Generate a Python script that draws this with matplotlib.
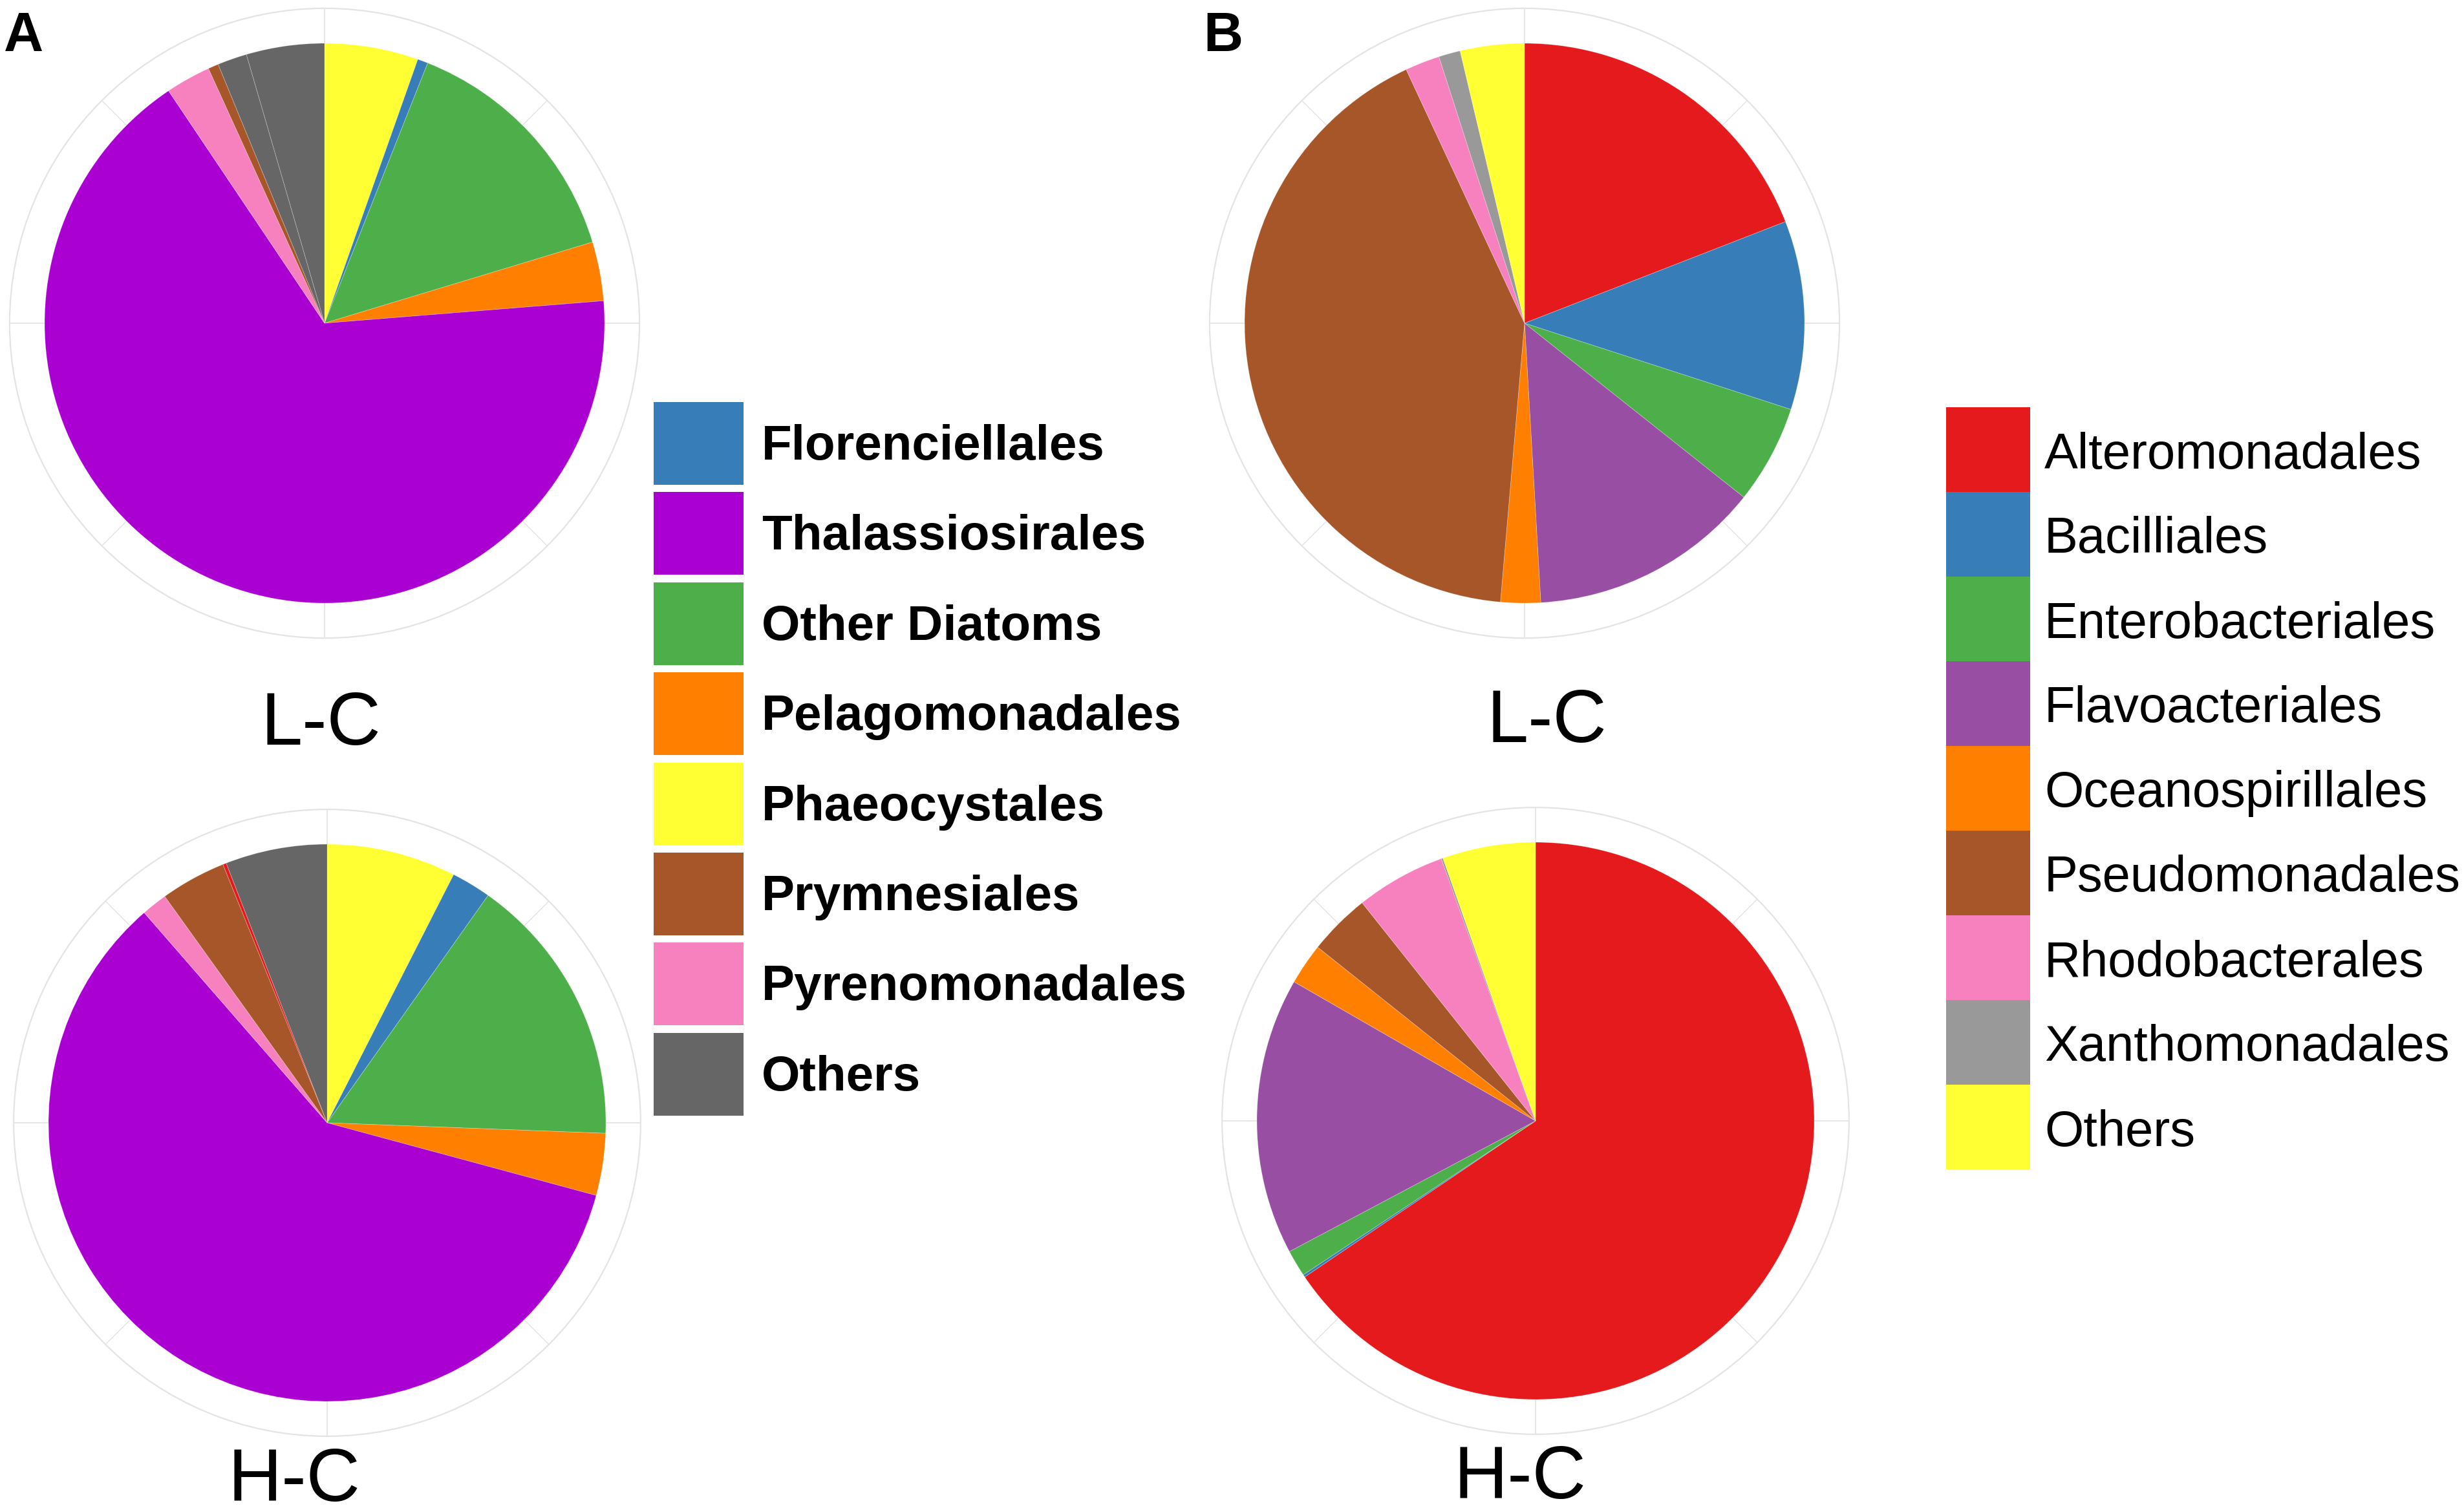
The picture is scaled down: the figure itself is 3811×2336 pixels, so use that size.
import math

import matplotlib
matplotlib.use("Agg")
import matplotlib.patches as patches  # noqa: E402
import matplotlib.pyplot as plt  # noqa: E402

plt.rcParams["font.family"] = ["Liberation Sans", "DejaVu Sans"]

W, H = 3811, 2336
DPI = 100
GRID = "#E4E4E4"

# Panel A: slices listed clockwise from 12 o'clock (relative abundance, %)
a_slices = ["Phaeocystales", "Florenciellales", "Other Diatoms", "Pelagomonadales",
            "Thalassiosirales", "Pyrenomonadales", "Prymnesiales", "Unlisted",
            "Others", "Others"]
a_lc = [5.4, 0.6, 14.3, 3.4, 66.8, 2.6, 0.6, 0.0, 1.7, 4.5]
a_hc = [7.5, 2.3, 15.8, 3.6, 59.4, 1.5, 3.8, 0.2, 5.9, 0.0]
a_legend = ["Florenciellales", "Thalassiosirales", "Other Diatoms", "Pelagomonadales",
            "Phaeocystales", "Prymnesiales", "Pyrenomonadales", "Others"]

# Panel B
b_slices = ["Alteromonadales", "Bacilliales", "Enterobacteriales", "Flavoacteriales",
            "Oceanospirillales", "Pseudomonadales", "Rhodobacterales",
            "Xanthomonadales", "Others"]
b_lc = [19.1, 10.9, 5.7, 13.4, 2.3, 41.7, 2.0, 1.25, 3.7]
b_hc = [65.6, 0.15, 1.55, 16.1, 2.4, 3.6, 5.2, 0.1, 5.4]
b_legend = b_slices

a_colors = {
    "Florenciellales": "#377EB8",
    "Thalassiosirales": "#AA00D2",
    "Other Diatoms": "#4DAF4A",
    "Pelagomonadales": "#FF7F00",
    "Phaeocystales": "#FFFF33",
    "Prymnesiales": "#A65628",
    "Pyrenomonadales": "#F781BF",
    "Unlisted": "#E41A1C",
    "Others": "#666666",
}
b_colors = {
    "Alteromonadales": "#E41A1C",
    "Bacilliales": "#377EB8",
    "Enterobacteriales": "#4DAF4A",
    "Flavoacteriales": "#984EA3",
    "Oceanospirillales": "#FF7F00",
    "Pseudomonadales": "#A65628",
    "Rhodobacterales": "#F781BF",
    "Xanthomonadales": "#999999",
    "Others": "#FFFF33",
}


def pie_panel(fig, cx, cy, r, names, values, colors):
    s = 1.15 * r
    ax = fig.add_axes([(cx - s) / W, 1 - (cy + s) / H, 2 * s / W, 2 * s / H])
    keep = [i for i, v in enumerate(values) if v > 0]
    ax.pie([values[i] for i in keep],
           colors=[colors[names[i]] for i in keep],
           startangle=90, counterclock=False, radius=1.0,
           wedgeprops=dict(linewidth=0.6, edgecolor=(1, 1, 1, 0.3)))
    # polar grid: outer ring + radial spokes (ggplot theme_minimal look)
    ax.add_patch(patches.Circle((0, 0), 1.125, fill=False, edgecolor=GRID,
                                linewidth=1.6, zorder=0))
    for k in range(8):
        ang = k * math.pi / 4
        ax.plot([0, 1.125 * math.cos(ang)], [0, 1.125 * math.sin(ang)],
                color=GRID, linewidth=1.3 if k % 2 == 0 else 1.0, zorder=0)
    ax.set_xlim(-1.15, 1.15)
    ax.set_ylim(-1.15, 1.15)
    ax.set_aspect("equal")
    ax.axis("off")
    return ax


fig = plt.figure(figsize=(W / DPI, H / DPI), dpi=DPI)
fig.patch.set_facecolor("white")

# overlay in pixel coordinates for labels and legends
ov = fig.add_axes([0, 0, 1, 1])
ov.set_xlim(0, W)
ov.set_ylim(H, 0)
ov.axis("off")
ov.patch.set_visible(False)

pie_panel(fig, 502, 500, 433, a_slices, a_lc, a_colors)
pie_panel(fig, 506, 1737, 431, a_slices, a_hc, a_colors)
pie_panel(fig, 2358, 500, 433, b_slices, b_lc, b_colors)
pie_panel(fig, 2375, 1734, 431, b_slices, b_hc, b_colors)

ov.text(6, 79, "A", fontsize=61, fontweight="bold", ha="left", va="baseline")
ov.text(1861, 79, "B", fontsize=61, fontweight="bold", ha="left", va="baseline")

ov.text(496, 1152, "L-C", fontsize=83, ha="center", va="baseline")
ov.text(455, 2322, "H-C", fontsize=83, ha="center", va="baseline")
ov.text(2392, 1148, "L-C", fontsize=83, ha="center", va="baseline")
ov.text(2351, 2318, "H-C", fontsize=83, ha="center", va="baseline")

# legend A (bold labels, small gaps between keys)
for i, name in enumerate(a_legend):
    top = 622 + i * 139.4
    ov.add_patch(patches.Rectangle((1011, top), 139, 128,
                                   facecolor=a_colors[name], edgecolor="none"))
    ov.text(1178, top + 89, name, fontsize=55, fontweight="bold",
            ha="left", va="baseline")

# legend B (regular labels, contiguous keys)
for i, name in enumerate(b_legend):
    top = 629.5 + i * 131
    ov.add_patch(patches.Rectangle((3010, top), 130, 131.5,
                                   facecolor=b_colors[name], edgecolor="none"))
    ov.text(3162, top + 95, name, fontsize=56, ha="left", va="baseline")

fig.savefig("out.png", dpi=DPI, facecolor="white")
plt.close(fig)
